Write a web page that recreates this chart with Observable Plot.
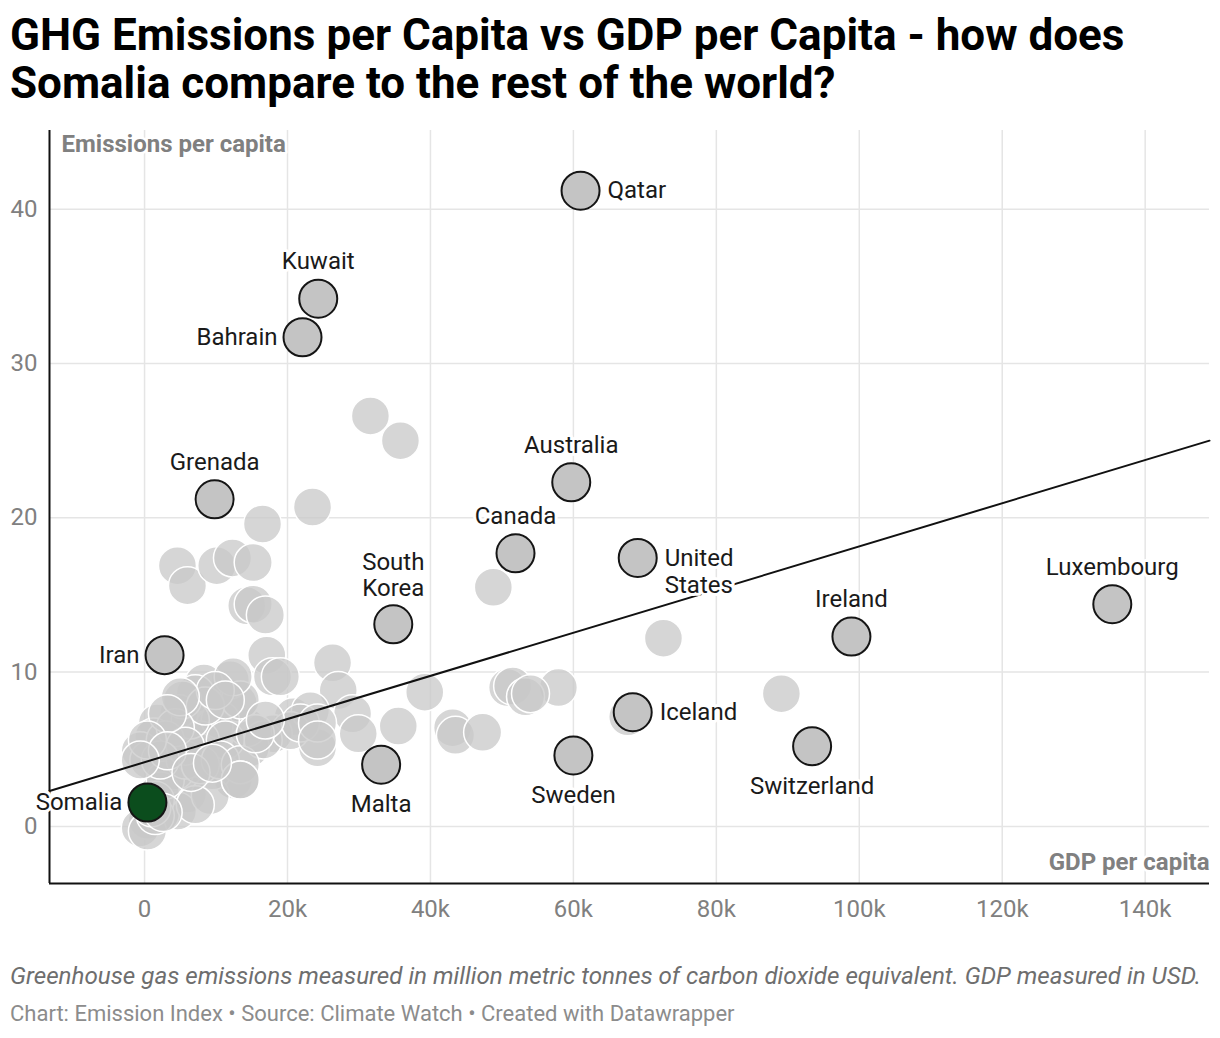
<!DOCTYPE html>
<html>
<head>
<meta charset="utf-8">
<script src="https://cdn.jsdelivr.net/npm/d3@7"></script>
<script src="https://cdn.jsdelivr.net/npm/@observablehq/plot@0.6"></script>
<style>
  html, body { margin: 0; padding: 0; background: #fff; }
  body { width: 1220px; height: 1038px; position: relative; font-family: Roboto, "Noto Sans", sans-serif; overflow: hidden; }
  #title { position: absolute; left: 10px; top: 11px; font-size: 44px; font-weight: 700; line-height: 48px; color: #000; white-space: nowrap; }
  #chart { position: absolute; left: 0; top: 120px; }
  #caption { position: absolute; left: 10px; top: 962px; font-size: 24.2px; font-style: italic; color: #6e6e6e; white-space: nowrap; }
  #footer { position: absolute; left: 10px; top: 1001px; font-size: 22px; color: #8c8c8c; white-space: nowrap; }
</style>
</head>
<body>
<div id="title">GHG Emissions per Capita vs GDP per Capita - how does<br>Somalia compare to the rest of the world?</div>
<div id="chart"></div>
<div id="caption">Greenhouse gas emissions measured in million metric tonnes of carbon dioxide equivalent. GDP measured in USD.</div>
<div id="footer">Chart: Emission Index • Source: Climate Watch • Created with Datawrapper</div>
<script>
// Highlighted countries (GDP per capita in USD, emissions per capita)
const hlNames = ["Qatar","Kuwait","Bahrain","Grenada","Australia","Canada","United States","South Korea","Iran","Ireland","Luxembourg","Iceland","Switzerland","Sweden","Malta","Somalia"];
const hlGdp = [61000,24300,22100,9800,59700,51900,69000,34800,2800,98900,135400,68300,93400,60000,33100,400];
const hlEmissions = [41.2,34.2,31.7,21.2,22.3,17.7,17.4,13.1,11.1,12.3,14.4,7.4,5.2,4.6,4.0,1.55];

// Other countries (GDP per capita in thousand USD, emissions per capita)
const otherGdpK = [31.6,35.8,23.5,16.5,4.6,6.0,10.1,12.3,15.2,14.3,15.2,16.9,17.1,17.9,26.3,27.1,39.2,35.5,48.8,72.6,
  89.1,57.9,50.8,51.5,53.3,54.0,43.1,43.5,47.3,67.6,29.1,29.9,24.2,20.8,23.2,18.0,14.8,14.4,12.4,13.1,
  12.0,8.3,7.1,9.7,10.6,4.8,1.8,1.3,-0.6,0.6,3.9,7.1,9.5,3.6,6.0,4.6,0.4,-0.6,2.2,13.4,
  12.4,19.0,16.6,20.4,21.8,4.3,2.2,1.5,2.9,5.7,7.8,11.3,9.2,7.1,0.4,1.5,6.4,5.3,8.5,9.9,
  11.3,2.9,4.3,5.7,7.8,10.6,13.4,15.5,16.9,2.2,5.0,3.2,0.4,3.2,-0.6,13.4,24.2,24.2,13.4,6.5,9.5,1.0,2.6];
const otherEmissions = [26.6,25.0,20.7,19.6,16.9,15.6,16.9,17.4,17.1,14.3,14.4,13.7,11.1,9.7,10.6,8.8,8.7,6.5,15.5,12.2,
  8.6,9.0,9.0,9.1,8.4,8.6,6.4,5.9,6.1,7.1,7.3,6.0,5.1,7.1,7.5,6.0,5.1,6.4,3.0,8.0,
  9.5,9.3,8.6,6.4,6.9,7.3,6.7,5.8,4.9,4.3,4.9,4.9,3.6,3.2,2.1,1.0,0.4,-0.1,0.8,8.2,
  9.7,9.7,5.6,6.2,6.7,3.6,2.3,1.7,3.0,4.3,5.6,5.6,2.0,1.4,-0.3,0.7,6.9,8.2,7.8,8.8,
  8.2,5.6,6.4,5.2,4.0,4.3,4.0,6.0,6.9,4.3,8.4,7.3,5.6,4.9,4.3,3.0,6.7,5.6,3.0,3.5,4.1,1.2,0.9];

// Trend line (GDP per capita, emissions per capita)
const trendGdp = [-13300, 149000];
const trendEmissions = [2.3, 25.0];

const xTicks = [0,20000,40000,60000,80000,100000,120000,140000];
const xTickLabels = ["0","20k","40k","60k","80k","100k","120k","140k"];
const yTicks = [0,10,20,30,40];

// label placement groups
const labelsAbove = ["Kuwait","Grenada","Australia","Canada","Ireland","Luxembourg"];
const labelsAboveTwo = ["South Korea"];
const labelsBelow = ["Switzerland","Sweden","Malta"];
const labelsLeft = ["Bahrain","Iran","Somalia"];
const labelsRight = ["Qatar","Iceland"];
const labelsRightTwo = ["United States"];

const highlights = hlNames.map((n, i) => ({name: n, gdp: hlGdp[i], em: hlEmissions[i]}));
const others = otherGdpK.map((g, i) => ({gdp: g * 1000, em: otherEmissions[i]}));
const trend = trendGdp.map((g, i) => ({gdp: g, em: trendEmissions[i]}));

const xDomain = [-13300, 149000];
const yDomain = [-3.7, 45.1];

const labelStyle = {x: "gdp", y: "em", fontSize: 24, fill: "#1a1a1a", stroke: "white", strokeWidth: 6, paintOrder: "stroke", fontFamily: "Roboto"};
const pick = (arr) => highlights.filter(d => arr.includes(d.name));
const wrap = (s) => s.replace(" ", "\n");

const plot = Plot.plot({
  width: 1220,
  height: 830,
  marginLeft: 49,
  marginRight: 11,
  marginTop: 10,
  marginBottom: 67,
  style: {fontFamily: "Roboto", background: "white", overflow: "visible"},
  x: {domain: xDomain},
  y: {domain: yDomain},
  marks: [
    Plot.ruleX(xTicks, {stroke: "#e5e5e5", strokeWidth: 1.5}),
    Plot.ruleY(yTicks, {stroke: "#e5e5e5", strokeWidth: 1.5}),
    Plot.axisX(xTicks, {tickSize: 0, tickPadding: 16, fontSize: 24, fill: "#808080", label: null, tickFormat: (d) => xTickLabels[xTicks.indexOf(d)]}),
    Plot.axisY(yTicks, {tickSize: 0, tickPadding: 12, fontSize: 24, fill: "#808080", label: null}),
    Plot.ruleX([xDomain[0]], {stroke: "#111", strokeWidth: 2}),
    Plot.ruleY([yDomain[0]], {stroke: "#111", strokeWidth: 2}),
    Plot.text(["Emissions per capita"], {frameAnchor: "top-left", dx: 12, dy: 4, fontSize: 24, fontWeight: "bold", fill: "#808080", stroke: "white", strokeWidth: 5, paintOrder: "stroke", lineAnchor: "top"}),
    Plot.text(["GDP per capita"], {frameAnchor: "bottom-right", dy: -14, fontSize: 24, fontWeight: "bold", fill: "#808080", stroke: "white", strokeWidth: 5, paintOrder: "stroke", lineAnchor: "bottom"}),
    Plot.dot(others, {x: "gdp", y: "em", r: 19, fill: "#c8c8c8", fillOpacity: 0.75, stroke: "white", strokeWidth: 1.5}),
    Plot.line(trend, {x: "gdp", y: "em", stroke: "#111", strokeWidth: 2}),
    Plot.dot(highlights, {x: "gdp", y: "em", r: 19, fill: d => d.name === "Somalia" ? "#0b4d1d" : "#c4c4c4", stroke: "#151515", strokeWidth: 2}),
    Plot.text(pick(labelsAbove), {...labelStyle, text: "name", dy: -37}),
    Plot.text(pick(labelsAboveTwo), {...labelStyle, text: d => wrap(d.name), dy: -50, lineHeight: 1.1}),
    Plot.text(pick(labelsBelow), {...labelStyle, text: "name", dy: 40}),
    Plot.text(pick(labelsLeft), {...labelStyle, text: "name", dx: -25, textAnchor: "end"}),
    Plot.text(pick(labelsRight), {...labelStyle, text: "name", dx: 27, textAnchor: "start"}),
    Plot.text(pick(labelsRightTwo), {...labelStyle, text: d => wrap(d.name), dx: 27, dy: 13, textAnchor: "start", lineHeight: 1.1})
  ]
});
document.getElementById("chart").appendChild(plot);
</script>
</body>
</html>
